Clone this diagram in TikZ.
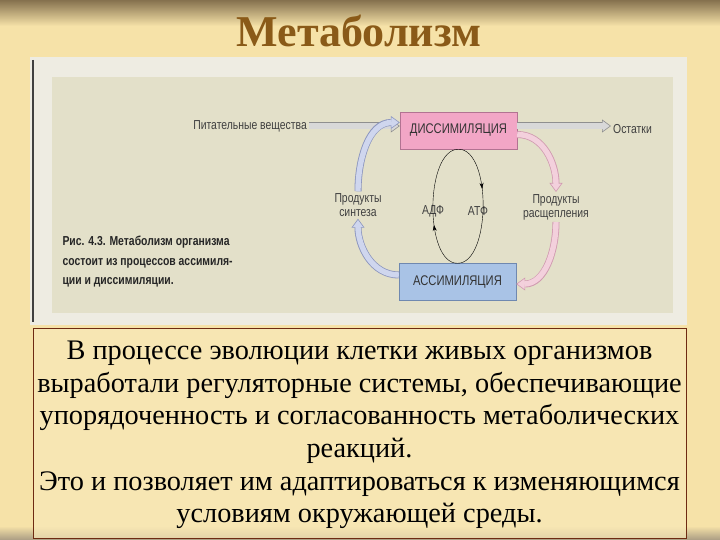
\documentclass[tikz,border=0pt]{standalone}
\usepackage{fontspec}
\setmainfont{Liberation Serif}
\newfontfamily\figfont[FakeStretch=0.8]{Liberation Sans}
\usetikzlibrary{arrows.meta,decorations.markings}

\definecolor{slidebg}{HTML}{F6E2A8}
\definecolor{slidetop}{HTML}{85714E}
\definecolor{titlebrown}{HTML}{8A5A18}
\definecolor{noteframe}{HTML}{6E2A12}
\definecolor{notefill}{HTML}{F8E8B8}
\definecolor{figframe}{HTML}{EEECE2}
\definecolor{figpanel}{HTML}{E3E0C9}
\definecolor{dissfill}{HTML}{F2A6C6}
\definecolor{dissline}{HTML}{B27392}
\definecolor{assimfill}{HTML}{A9C3E6}
\definecolor{assimline}{HTML}{6F88B0}
\definecolor{blueedge}{HTML}{8C96BE}
\definecolor{bluefill}{HTML}{CFD6EE}
\definecolor{pinkedge}{HTML}{D09AB0}
\definecolor{pinkfill}{HTML}{F3D0DC}
\definecolor{greyedge}{HTML}{8F8F8F}
\definecolor{greyfill}{HTML}{D8D8D8}

\begin{document}
\begin{tikzpicture}[x=1pt, y=-1pt,
    procbox/.style={draw=#1line, fill=#1fill, minimum width=117pt, minimum height=37pt,
      inner sep=0pt, font=\figfont\fontsize{14}{14}\selectfont, text=black!80},
    figlabel/.style={font=\figfont\fontsize{13}{14}\selectfont, text=black!75, align=center, inner sep=2pt},
    fat/.style 2 args={draw=#1, line width=7pt,
      -{Triangle[length=9pt, width=13pt, line width=0.6pt, fill=#2]},
      postaction={draw=#2, line width=5.4pt, shorten >=8pt, -}},
    cyclearrow/.style={thin, postaction={decorate},
      decoration={markings, mark=at position #1 with {\arrow{Stealth[length=6pt, width=4pt]}}}},
  ]
  % slide background
  \fill[slidebg] (0,0) rectangle (720,540);
  \shade[top color=slidetop, bottom color=slidebg] (0,0) rectangle (720,26);
  \shade[top color=slidebg, bottom color=slidetop!70] (0,526) rectangle (720,540);
  \node[font=\bfseries\fontsize{44}{44}\selectfont, text=titlebrown] (title) at (359,31) {Метаболизм};

  % scanned figure
  \fill[figframe] (30,57) rectangle (687,325);
  \fill[figpanel] (52,77) rectangle (673,313);
  \draw[black!75, line width=1.5pt] (33,60) -- (33,322);

  \node[procbox=diss] (diss) at (458.5,130.5) {ДИССИМИЛЯЦИЯ};
  \node[procbox=assim] (assim) at (457.5,282) {АССИМИЛЯЦИЯ};
  \node[figlabel, anchor=east] (feed) at (309,126) {Питательные вещества};
  \node[figlabel, anchor=west] (rest) at (611,129) {Остатки};
  \node[figlabel] (synth) at (358,205) {Продукты\\синтеза};
  \node[figlabel] (split) at (556,207) {Продукты\\расщепления};
  \node[figlabel] (adp) at (433,211) {АДФ};
  \node[figlabel] (atp) at (478,211) {АТФ};

  \draw[fat={greyedge}{greyfill}] (feed.east) -- (feed.east -| diss.west);
  \draw[fat={greyedge}{greyfill}] (diss.east |- feed.east) -- (rest.west |- feed.east);
  \draw[fat={blueedge}{bluefill}] ([yshift=7pt]assim.west) to[out=180, in=-90] (synth.south);
  \draw[fat={blueedge}{bluefill}] (synth.north) to[out=90, in=180] ([yshift=8pt]diss.west);
  \draw[fat={pinkedge}{pinkfill}] ([yshift=-4pt]diss.east) to[out=0, in=90] (split.north);
  \draw[fat={pinkedge}{pinkfill}] (split.south) to[out=-90, in=0] ([yshift=-2pt]assim.east);

  \draw[cyclearrow=0.37] (diss.south) to[out=0, in=0, looseness=0.75] (assim.north);
  \draw[cyclearrow=0.36] (assim.north) to[out=180, in=180, looseness=0.75] (diss.south);

  \node[anchor=west, align=left, text=black!85,
    font=\figfont\bfseries\fontsize{13}{19.5}\selectfont] (caption) at (59,262)
    {Рис. 4.3. Метаболизм организма\\состоит из процессов ассимиля-\\ции и диссимиляции.};

  % note
  \node[draw=noteframe, fill=notefill, fill opacity=0.7, draw opacity=1,
    minimum width=653pt, minimum height=210pt, anchor=north west] (note) at (33,328) {};
  \node[align=center, font=\fontsize{28.3}{32.6}\selectfont] (notetext) at (359.5,435)
    {В процессе эволюции клетки живых организмов\\
     выработали регуляторные системы, обеспечивающие\\
     упорядоченность и согласованность метаболических\\
     реакций.\\
     Это и позволяет им адаптироваться к изменяющимся\\
     условиям окружающей среды.};
\end{tikzpicture}
\end{document}
